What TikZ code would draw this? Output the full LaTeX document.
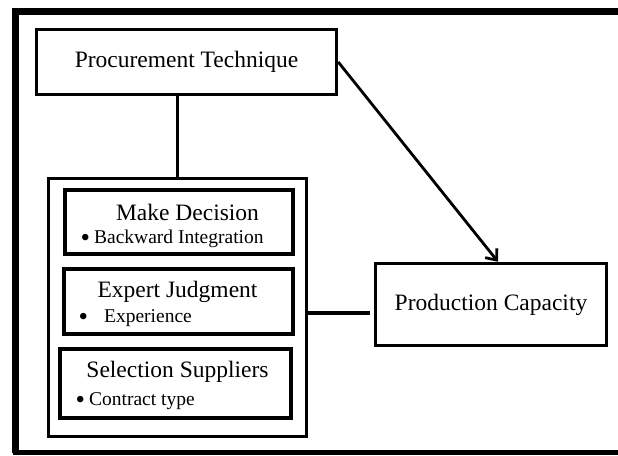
\documentclass[tikz,border=0pt]{standalone}
\usepackage{fontspec}
\setmainfont{Liberation Serif}
\usepackage{tikz}
\usetikzlibrary{calc}
\usetikzlibrary{positioning}
\usetikzlibrary{arrows.meta}
\tikzset{>=latex}
\newcommand{\bigdot}{\raisebox{-3pt}{\fontsize{27}{27}\selectfont\textbullet}}
\tikzset{
    titlebox/.style={draw, line width=3.5pt, inner sep=0pt, font=\fontsize{23.5}{28}\selectfont},
    itembox/.style={draw, line width=4pt, inner sep=0pt},
    holderbox/.style={draw, line width=3pt, inner sep=0pt},
    headtxt/.style={inner sep=0pt, font=\fontsize{23.5}{28}\selectfont},
    itemtxt/.style={inner sep=0pt, anchor=west, font=\fontsize{19.5}{23}\selectfont},
    link/.style={line width=2.8pt},
}

\begin{document}
\begin{tikzpicture}[x=1pt, y=1pt]
                    \useasboundingbox (0,0) rectangle (618,455);
                    \begin{scope}
                      \clip (0,0) rectangle (618,455);
                      % page frame
                      \draw[line width=7pt] (640,443.5) -- (15.5,443.5) -- (15.5,2.5);
                      \draw[line width=5pt] (13,2.5) -- (640,2.5);
                    \end{scope}

                    \node[titlebox, minimum width=300pt, minimum height=65pt] (proc) at (186.5,393) {Procurement Technique};
                    \node[titlebox, minimum width=231pt, minimum height=82pt] (prodcap) at (491,150.5) {Production Capacity};

                    \node[holderbox, minimum width=258pt, minimum height=258pt] (holder) at (177.5,147.5) {};

                    \node[itembox, minimum width=228pt, minimum height=64pt] (decide) at (179,233) {};
                    \node[headtxt] (decidehead) at (187.5,243) {Make Decision};
                    \node[itemtxt, anchor=base west] (decideitem) at (80.5,211) {\bigdot\hspace{4pt}Backward Integration};

                    \node[itembox, minimum width=229pt, minimum height=65pt] (expert) at (178.5,153.5) {};
                    \node[headtxt] (experthead) at (177.5,163) {Expert Judgment};
                    \node[itemtxt, anchor=base west] (expertitem) at (78.5,132) {\bigdot\hspace{16pt}Experience};

                    \node[itembox, minimum width=231pt, minimum height=69pt] (select) at (175.5,71.5) {};
                    \node[headtxt] (selecthead) at (177.5,83) {Selection Suppliers};
                    \node[itemtxt, anchor=base west] (selectitem) at (75.5,49) {\bigdot\hspace{4pt}Contract type};

                    \draw[link] (holder.north) -- (holder.north |- proc.south);
                    \draw[link, line width=3.5pt, shorten >=4pt] ([yshift=-5.5pt]holder.east) -- ([yshift=-5.5pt]holder.east -| prodcap.west);
                    \draw[link, -{Straight Barb[length=9pt, width=15pt]}] (proc.east) -- ([xshift=7pt]prodcap.north);
                \end{tikzpicture}
\end{document}
